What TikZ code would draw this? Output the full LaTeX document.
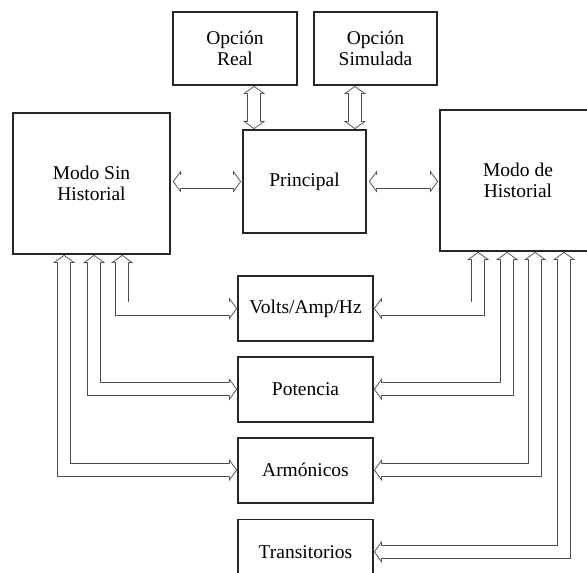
\documentclass[tikz,border=0pt]{standalone}
\usepackage{fontspec}
\setmainfont{Liberation Serif}
\usetikzlibrary{arrows.meta,positioning}

\begin{document}
\begin{tikzpicture}[
  x=1pt,y=-1pt,
  font=\fontsize{19.5}{21}\selectfont,
  box/.style={draw=black!85,line width=1.8pt,fill=white,align=center,inner sep=0pt},
  listbox/.style={box,minimum width=135pt,minimum height=65pt},
  hollow/.style={draw=white,line width=12.3pt,
    arrows={Triangle[width=16.8pt,length=6.1pt,line width=0pt,fill=white]-Triangle[width=16.8pt,length=6.1pt,line width=0pt,fill=white]},
    shorten <=1.1pt,shorten >=1.1pt,
    preaction={draw=black!70,line width=14pt,shorten <=0pt,shorten >=0pt,
      arrows={Triangle[width=22pt,length=8pt,line width=0pt]-Triangle[width=22pt,length=8pt,line width=0pt]}}}
]
\useasboundingbox (0,0) rectangle (587,573);
\clip (0,0) rectangle (587,573);
\node[box,minimum width=124pt,minimum height=73pt] (real) at (235,48.5) {Opción\\Real};
\node[box,minimum width=123pt,minimum height=73pt] (sim) at (375.5,48.5) {Opción\\Simulada};
\node[box,minimum width=123pt,minimum height=103pt] (main) at (304.5,181.5) {Principal};
\node[box,minimum width=157pt,minimum height=141pt] (sin) at (91.5,183.5) {Modo Sin\\Historial};
\node[box,minimum width=156pt,minimum height=141pt] (hist) at (518,180.5) {Modo de\\Historial};
\node[listbox] (volts) at (305.5,308.5) {Volts/Amp/Hz};
\node[listbox,below=14pt of volts] (pot) {Potencia};
\node[listbox,below=14pt of pot] (arm) {Armónicos};
\node[listbox,below=15pt of arm] (trans) {Transitorios};
% top links
\coordinate (rl) at ([xshift=12pt]main.north west);
\coordinate (sl) at ([xshift=-12pt]main.north east);
\draw[hollow] (real.south -| rl) -- (rl);
\draw[hollow] (sim.south -| sl) -- (sl);
\draw[hollow] ([xshift=2pt]sin.east |- main) -- ([xshift=-1pt]main.west);
\draw[hollow] ([xshift=2pt]main.east) -- ([xshift=-1pt]hist.west |- main);
% left bus
\draw[hollow] ([xshift=110pt]sin.south west) |- (volts.west);
\draw[hollow] ([xshift=82pt]sin.south west) |- (pot.west);
\draw[hollow] ([xshift=52pt]sin.south west) |- (arm.west);
% right bus
\draw[hollow] ([xshift=39pt]hist.south west) |- (volts.east);
\draw[hollow] ([xshift=68pt]hist.south west) |- (pot.east);
\draw[hollow] ([xshift=96pt]hist.south west) |- (arm.east);
\draw[hollow] ([xshift=125pt]hist.south west) |- (trans.east);
\end{tikzpicture}
\end{document}
